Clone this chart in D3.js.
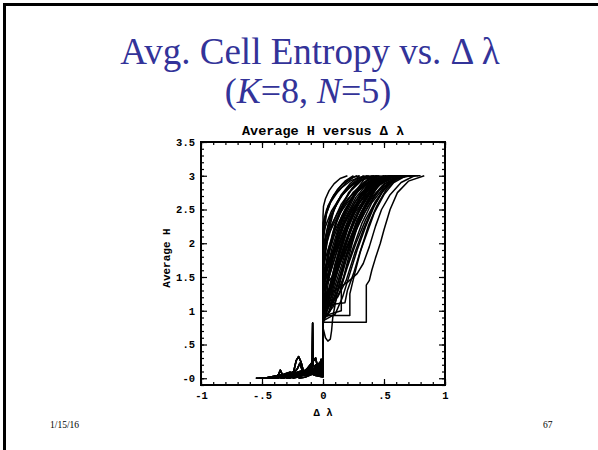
<!DOCTYPE html>
<html>
<head>
<meta charset="utf-8">
<script src="https://cdn.jsdelivr.net/npm/d3@7"></script>
<style>
  body { margin: 0; background: #fff; }
  svg { display: block; }
</style>
</head>
<body>
<svg width="598" height="450"></svg>
<script>
// tick values and their IDL-style labels
var xMajor = [-1, -0.5, 0, 0.5, 1],
    xLabels = ["-1", "-.5", "0", ".5", "1"];
var yMajor = [0, 0.5, 1, 1.5, 2, 2.5, 3, 3.5],
    yLabels = ["-0", ".5", "1", "1.5", "2", "2.5", "3", "3.5"];

// noisy tails for dl < 0
var tails = [
  [[-0.55,0],[-0.45,0],[-0.4,0.01],[-0.37,0.03],[-0.35,0.12],[-0.33,0.04],[-0.25,0.05],[-0.15,0.06],[-0.05,0.08],[0,0.05]],
  [[-0.5,0],[-0.4,0.02],[-0.3,0.03],[-0.24,0.1],[-0.22,0.26],[-0.2,0.32],[-0.18,0.24],[-0.16,0.1],[-0.1,0.12],[-0.05,0.06],[0,0.04]],
  [[-0.42,0],[-0.35,0.02],[-0.28,0.05],[-0.2,0.06],[-0.12,0.08],[-0.09,0.15],[-0.085,0.82],[-0.08,0.2],[-0.05,0.1],[0,0.06]],
  [[-0.48,0],[-0.4,0.03],[-0.32,0.06],[-0.27,0.09],[-0.2,0.05],[-0.13,0.14],[-0.06,0.3],[-0.04,0.12],[0,0.08]],
  [[-0.38,0],[-0.3,0.04],[-0.24,0.07],[-0.17,0.11],[-0.1,0.09],[-0.06,0.18],[-0.03,0.1],[-0.015,0.28],[0,0.1]],
  [[-0.45,0],[-0.36,0.01],[-0.28,0.08],[-0.22,0.05],[-0.15,0.1],[-0.11,0.06],[-0.07,0.13],[-0.02,0.2],[0,0.12]],
  [[-0.3,0],[-0.22,0.03],[-0.15,0.06],[-0.1,0.18],[-0.07,0.1],[-0.03,0.15],[0,0.05]],
  [[-0.4,0],[-0.33,0.03],[-0.26,0.04],[-0.21,0.14],[-0.19,0.22],[-0.17,0.12],[-0.12,0.07],[-0.05,0.12],[0,0.03]],
  [[-0.35,0],[-0.27,0.02],[-0.19,0.05],[-0.13,0.04],[-0.08,0.1],[-0.04,0.22],[-0.02,0.13],[0,0.07]],
  [[-0.25,0],[-0.18,0.03],[-0.12,0.09],[-0.07,0.05],[-0.04,0.14],[0,0.15]],
  [[-0.5,0],[-0.42,0.01],[-0.36,0.05],[-0.3,0.03],[-0.24,0.06],[-0.18,0.04],[-0.1,0.07],[-0.06,0.04],[0,0.02]],
  [[-0.2,0],[-0.14,0.02],[-0.09,0.06],[-0.06,0.2],[-0.05,0.08],[-0.02,0.11],[0,0.3]],
  [[-0.46,0],[-0.38,0.02],[-0.3,0.06],[-0.22,0.08],[-0.16,0.05],[-0.11,0.1],[-0.06,0.09],[-0.03,0.16],[0,0.08]],
  [[-0.33,0],[-0.26,0.05],[-0.2,0.03],[-0.15,0.08],[-0.1,0.14],[-0.07,0.08],[-0.04,0.2],[-0.01,0.12],[0,0.18]],
  [[-0.28,0],[-0.2,0.04],[-0.14,0.1],[-0.09,0.07],[-0.05,0.12],[-0.02,0.25],[0,0.1]],
  [[-0.52,0],[-0.44,0.01],[-0.34,0.04],[-0.26,0.02],[-0.2,0.07],[-0.14,0.05],[-0.08,0.11],[-0.03,0.06],[0,0.04]]
];

// rise of average H for dl >= 0, one per run
var rises = [
  [[0,2.4],[0.004,2.55],[0.02,2.66],[0.05,2.78],[0.09,2.88],[0.14,2.96],[0.2,3]],
  [[0,1.9],[0.01,2.2],[0.03,2.45],[0.07,2.65],[0.12,2.8],[0.18,2.92],[0.25,3]],
  [[0,1.5],[0.02,1.85],[0.05,2.2],[0.09,2.5],[0.15,2.72],[0.22,2.88],[0.3,3]],
  [[0,1.2],[0.02,1.55],[0.06,1.95],[0.11,2.3],[0.17,2.6],[0.24,2.82],[0.33,3]],
  [[0,1.0],[0.03,1.4],[0.07,1.8],[0.12,2.15],[0.19,2.5],[0.27,2.78],[0.36,3]],
  [[0,0.9],[0.02,1.15],[0.06,1.6],[0.11,2.0],[0.18,2.4],[0.26,2.7],[0.34,2.9],[0.4,3]],
  [[0,0.85],[0.03,1.0],[0.08,1.45],[0.14,1.9],[0.2,2.25],[0.28,2.6],[0.36,2.85],[0.44,3]],
  [[0,1.1],[0.04,1.5],[0.1,2.0],[0.17,2.4],[0.25,2.7],[0.34,2.9],[0.42,3]],
  [[0,0.95],[0.05,1.3],[0.1,1.7],[0.16,2.05],[0.24,2.45],[0.32,2.72],[0.4,2.9],[0.47,3]],
  [[0,0.8],[0.05,1.1],[0.1,1.45],[0.17,1.9],[0.25,2.3],[0.33,2.6],[0.42,2.85],[0.5,3]],
  [[0,0.9],[0.04,0.95],[0.1,1.25],[0.16,1.65],[0.23,2.05],[0.31,2.45],[0.4,2.75],[0.48,2.93],[0.54,3]],
  [[0,0.85],[0.06,1.0],[0.12,1.3],[0.19,1.75],[0.27,2.2],[0.35,2.55],[0.44,2.82],[0.52,2.96],[0.57,3]],
  [[0,1.3],[0.03,1.7],[0.08,2.15],[0.14,2.5],[0.21,2.75],[0.3,2.92],[0.37,3]],
  [[0,1.6],[0.02,1.95],[0.06,2.35],[0.12,2.62],[0.2,2.82],[0.29,2.96],[0.34,3]],
  [[0,2.1],[0.01,2.3],[0.04,2.55],[0.09,2.72],[0.16,2.88],[0.24,2.97],[0.28,3]],
  [[0,1.0],[0.05,1.25],[0.11,1.6],[0.18,2.0],[0.26,2.4],[0.35,2.7],[0.45,2.9],[0.55,3]],
  [[0,0.9],[0.05,0.93],[0.22,0.93],[0.22,1.25],[0.26,1.55],[0.31,1.9],[0.37,2.25],[0.44,2.55],[0.52,2.8],[0.6,2.95],[0.65,3]],
  [[0,0.83],[0.355,0.83],[0.355,1.38],[0.38,1.45],[0.4,1.6],[0.43,1.78],[0.47,2.0],[0.5,2.2],[0.55,2.5],[0.61,2.75],[0.7,2.92],[0.83,3]],
  [[0,1.05],[0.1,1.1],[0.18,1.12],[0.2,1.3],[0.25,1.55],[0.3,1.85],[0.36,2.15],[0.42,2.45],[0.5,2.72],[0.58,2.9],[0.68,3]],
  [[0,1.2],[0.1,1.3],[0.2,1.42],[0.28,1.55],[0.33,1.7],[0.38,1.95],[0.43,2.25],[0.48,2.5],[0.55,2.72],[0.64,2.9],[0.75,3]],
  [[0,0.75],[0.02,0.6],[0.04,0.55],[0.06,0.58],[0.07,0.7],[0.08,0.9],[0.12,1.3],[0.18,1.75],[0.25,2.15],[0.33,2.5],[0.42,2.78],[0.5,2.93],[0.56,3]],
  [[0,1.4],[0.04,1.8],[0.09,2.1],[0.16,2.42],[0.24,2.68],[0.33,2.86],[0.42,2.97],[0.46,3]],
  [[0,1.7],[0.03,2.0],[0.08,2.3],[0.15,2.58],[0.23,2.78],[0.31,2.92],[0.38,3]],
  [[0,2.2],[0.02,2.4],[0.06,2.6],[0.12,2.76],[0.19,2.9],[0.25,2.98],[0.3,3]],
  [[0,0.95],[0.03,1.2],[0.08,1.55],[0.14,1.95],[0.22,2.35],[0.3,2.65],[0.39,2.86],[0.49,2.98],[0.52,3]],
  [[0,0.88],[0.08,1.05],[0.14,1.3],[0.2,1.65],[0.27,2.0],[0.35,2.35],[0.43,2.62],[0.52,2.85],[0.6,2.97],[0.62,3]],
  [[0,1.15],[0.07,1.35],[0.14,1.7],[0.21,2.1],[0.29,2.45],[0.38,2.72],[0.47,2.9],[0.57,3]],
  [[0,1.25],[0.03,1.55],[0.07,1.9],[0.13,2.25],[0.2,2.55],[0.28,2.8],[0.37,2.95],[0.41,3]],
  [[0,0.92],[0.15,1.0],[0.15,1.35],[0.19,1.65],[0.24,2.0],[0.3,2.35],[0.37,2.62],[0.45,2.85],[0.53,2.97],[0.58,3]],
  [[0,1.8],[0.02,2.1],[0.06,2.4],[0.13,2.65],[0.21,2.83],[0.3,2.95],[0.36,3]],
  [[0,1.35],[0.05,1.6],[0.11,1.95],[0.18,2.3],[0.26,2.6],[0.35,2.82],[0.45,2.95],[0.5,3]],
  [[0,1.05],[0.06,1.35],[0.13,1.8],[0.2,2.2],[0.28,2.55],[0.37,2.8],[0.47,2.95],[0.53,3]],
  [[0,1.45],[0.06,1.75],[0.13,2.1],[0.21,2.45],[0.3,2.72],[0.4,2.9],[0.5,2.99],[0.6,3]],
  [[0,1.55],[0.07,1.85],[0.15,2.2],[0.24,2.5],[0.33,2.75],[0.43,2.92],[0.53,2.99],[0.7,3]],
  [[0,2.0],[0.05,2.2],[0.12,2.45],[0.2,2.65],[0.3,2.83],[0.42,2.95],[0.55,3],[0.78,3]],
  [[0,1.0],[0.09,1.15],[0.17,1.5],[0.24,1.9],[0.32,2.3],[0.4,2.6],[0.5,2.83],[0.6,2.96],[0.72,3]],
  [[0,1.1],[0.02,1.3],[0.06,1.65],[0.12,2.05],[0.19,2.4],[0.27,2.68],[0.36,2.88],[0.46,3]],
  [[0,0.95],[0.04,1.15],[0.09,1.5],[0.15,1.85],[0.22,2.2],[0.3,2.5],[0.39,2.76],[0.49,2.92],[0.6,3]],
  [[0,1.3],[0.05,1.5],[0.11,1.85],[0.18,2.2],[0.27,2.52],[0.36,2.76],[0.46,2.92],[0.56,2.99],[0.65,3]],
  [[0,1.65],[0.04,1.9],[0.1,2.2],[0.18,2.5],[0.27,2.74],[0.37,2.9],[0.48,2.98],[0.6,3]],
  [[0,0.87],[0.06,1.1],[0.12,1.42],[0.19,1.82],[0.26,2.15],[0.34,2.45],[0.42,2.7],[0.51,2.88],[0.6,2.97],[0.67,3]],
  [[0,1.2],[0.08,1.4],[0.16,1.8],[0.24,2.15],[0.32,2.45],[0.41,2.7],[0.5,2.88],[0.6,2.97],[0.7,3]],
  [[0,2.3],[0.03,2.5],[0.08,2.68],[0.15,2.82],[0.23,2.93],[0.33,2.99],[0.45,3]],
  [[0,1.9],[0.05,2.15],[0.12,2.4],[0.2,2.6],[0.29,2.78],[0.39,2.9],[0.5,2.97],[0.62,3]],
  [[0,1.0],[0.02,1.1],[0.07,1.4],[0.13,1.8],[0.2,2.2],[0.28,2.55],[0.37,2.8],[0.47,2.95],[0.55,3]],
  [[0,0.9],[0.03,1.05],[0.07,1.3],[0.12,1.6],[0.18,1.95],[0.25,2.3],[0.33,2.6],[0.42,2.83],[0.52,2.96],[0.58,3]],
  [[0,1.5],[0.06,1.7],[0.13,2.0],[0.21,2.32],[0.3,2.6],[0.4,2.82],[0.5,2.95],[0.62,3],[0.72,3]],
  [[0,1.4],[0.02,1.65],[0.05,1.95],[0.1,2.28],[0.17,2.55],[0.25,2.76],[0.34,2.9],[0.44,3]],
  [[0,0.85],[0.1,0.95],[0.16,1.2],[0.22,1.55],[0.28,1.9],[0.35,2.25],[0.42,2.55],[0.5,2.8],[0.58,2.95],[0.66,3]],
  [[0,1.1],[0.12,1.2],[0.19,1.45],[0.26,1.85],[0.33,2.2],[0.4,2.5],[0.48,2.75],[0.57,2.92],[0.68,3]],
  [[0,1.75],[0.01,1.95],[0.04,2.25],[0.09,2.5],[0.16,2.72],[0.25,2.88],[0.35,2.97],[0.42,3]],
  [[0,1.25],[0.04,1.45],[0.09,1.75],[0.15,2.1],[0.23,2.45],[0.32,2.72],[0.42,2.9],[0.52,2.98],[0.58,3]],
  [[0,0.95],[0.07,1.2],[0.13,1.55],[0.2,1.95],[0.28,2.35],[0.37,2.65],[0.46,2.86],[0.56,2.97],[0.63,3]],
  [[0,2.05],[0.02,2.25],[0.07,2.48],[0.14,2.68],[0.22,2.84],[0.32,2.94],[0.43,2.99],[0.52,3]],
  [[0,1.6],[0.09,1.85],[0.17,2.15],[0.26,2.45],[0.36,2.7],[0.46,2.87],[0.57,2.96],[0.68,3],[0.8,3]],
  [[0,1.35],[0.1,1.55],[0.19,1.9],[0.28,2.25],[0.37,2.55],[0.46,2.78],[0.56,2.93],[0.66,2.99],[0.76,3]]
];

var svg = d3.select("svg"),
    blue = "#333399",
    plotFont = "'Liberation Mono', monospace";

// slide frame (only left and top edges show)
svg.append("rect")
    .attr("x", 4.5).attr("y", 4.5)
    .attr("width", 620).attr("height", 470)
    .attr("fill", "none").attr("stroke", "#000").attr("stroke-width", 3);

// slide title
var title = svg.append("g")
    .attr("font-family", "'Liberation Serif', 'Times New Roman', serif")
    .attr("fill", blue)
    .attr("text-anchor", "middle");
title.append("text")
    .attr("x", 310).attr("y", 64)
    .attr("font-size", 37)
    .text("Avg. Cell Entropy vs. \u0394\u2009\u03bb");
var sub = title.append("text")
    .attr("x", 308).attr("y", 103)
    .attr("font-size", 36);
sub.append("tspan").text("(");
sub.append("tspan").attr("font-style", "italic").text("K");
sub.append("tspan").text("=8, ");
sub.append("tspan").attr("font-style", "italic").text("N");
sub.append("tspan").text("=5)");

// footer
var foot = svg.append("g")
    .attr("font-family", "'Liberation Serif', 'Times New Roman', serif")
    .attr("font-size", 9.5)
    .attr("fill", "#000");
foot.append("text").attr("x", 50).attr("y", 428).text("1/15/16");
foot.append("text").attr("x", 543).attr("y", 428).text("67");

// plot
var x = d3.scaleLinear().domain([-1, 1]).range([201, 445]),
    y = d3.scaleLinear().domain([-0.1, 3.5]).range([385, 142]);

svg.append("clipPath").attr("id", "clip")
  .append("rect")
    .attr("x", 201).attr("y", 142)
    .attr("width", 244).attr("height", 243);

var line = d3.line()
    .x(function(d) { return x(d[0]); })
    .y(function(d) { return y(d[1]); });

svg.append("g")
    .attr("clip-path", "url(#clip)")
  .selectAll("path")
  .data(rises)
  .enter().append("path")
    .attr("d", function(d, i) { return line(tails[i % tails.length].concat(d)); })
    .attr("fill", "none")
    .attr("stroke", "#000")
    .attr("stroke-width", 1.5)
    .attr("stroke-linejoin", "round");

// axes, ticks drawn inward on all four sides
var xMinor = d3.range(-10, 11).map(function(v) { return v / 10; }),
    yMinor = d3.range(-1, 36).map(function(v) { return v / 10; });

function styleAxis(g) {
  g.select(".domain").remove();
  g.selectAll("line").attr("stroke", "#000").attr("stroke-width", 1.2);
  g.selectAll("text")
    .attr("font-family", plotFont)
    .attr("font-weight", "bold")
    .attr("font-size", 10.5)
    .attr("fill", "#000");
}

svg.append("g").attr("transform", "translate(0,385)")
    .call(d3.axisBottom(x).tickValues(xMinor).tickSize(-3).tickFormat(""))
    .call(styleAxis);
svg.append("g").attr("transform", "translate(0,385)")
    .call(d3.axisBottom(x).tickValues(xMajor).tickSize(-6).tickPadding(7)
      .tickFormat(function(d, i) { return xLabels[i]; }))
    .call(styleAxis);
svg.append("g").attr("transform", "translate(0,142)")
    .call(d3.axisTop(x).tickValues(xMinor).tickSize(-3).tickFormat(""))
    .call(styleAxis);
svg.append("g").attr("transform", "translate(0,142)")
    .call(d3.axisTop(x).tickValues(xMajor).tickSize(-6).tickFormat(""))
    .call(styleAxis);
svg.append("g").attr("transform", "translate(201,0)")
    .call(d3.axisLeft(y).tickValues(yMinor).tickSize(-3).tickFormat(""))
    .call(styleAxis);
svg.append("g").attr("transform", "translate(201,0)")
    .call(d3.axisLeft(y).tickValues(yMajor).tickSize(-6).tickPadding(6)
      .tickFormat(function(d, i) { return yLabels[i]; }))
    .call(styleAxis);
svg.append("g").attr("transform", "translate(445,0)")
    .call(d3.axisRight(y).tickValues(yMinor).tickSize(-3).tickFormat(""))
    .call(styleAxis);
svg.append("g").attr("transform", "translate(445,0)")
    .call(d3.axisRight(y).tickValues(yMajor).tickSize(-6).tickFormat(""))
    .call(styleAxis);

svg.append("rect")
    .attr("x", 201).attr("y", 142)
    .attr("width", 244).attr("height", 243)
    .attr("fill", "none").attr("stroke", "#000").attr("stroke-width", 2);

// plot labels
svg.append("text")
    .attr("x", 323).attr("y", 135)
    .attr("text-anchor", "middle")
    .attr("font-family", plotFont).attr("font-weight", "bold").attr("font-size", 13.5)
    .text("Average H versus \u0394 \u03bb");
svg.append("text")
    .attr("x", 323).attr("y", 416)
    .attr("text-anchor", "middle")
    .attr("font-family", plotFont).attr("font-weight", "bold").attr("font-size", 10.5)
    .text("\u0394 \u03bb");
svg.append("text")
    .attr("transform", "translate(170,258) rotate(-90)")
    .attr("text-anchor", "middle")
    .attr("font-family", plotFont).attr("font-weight", "bold").attr("font-size", 11)
    .text("Average H");
</script>
</body>
</html>
